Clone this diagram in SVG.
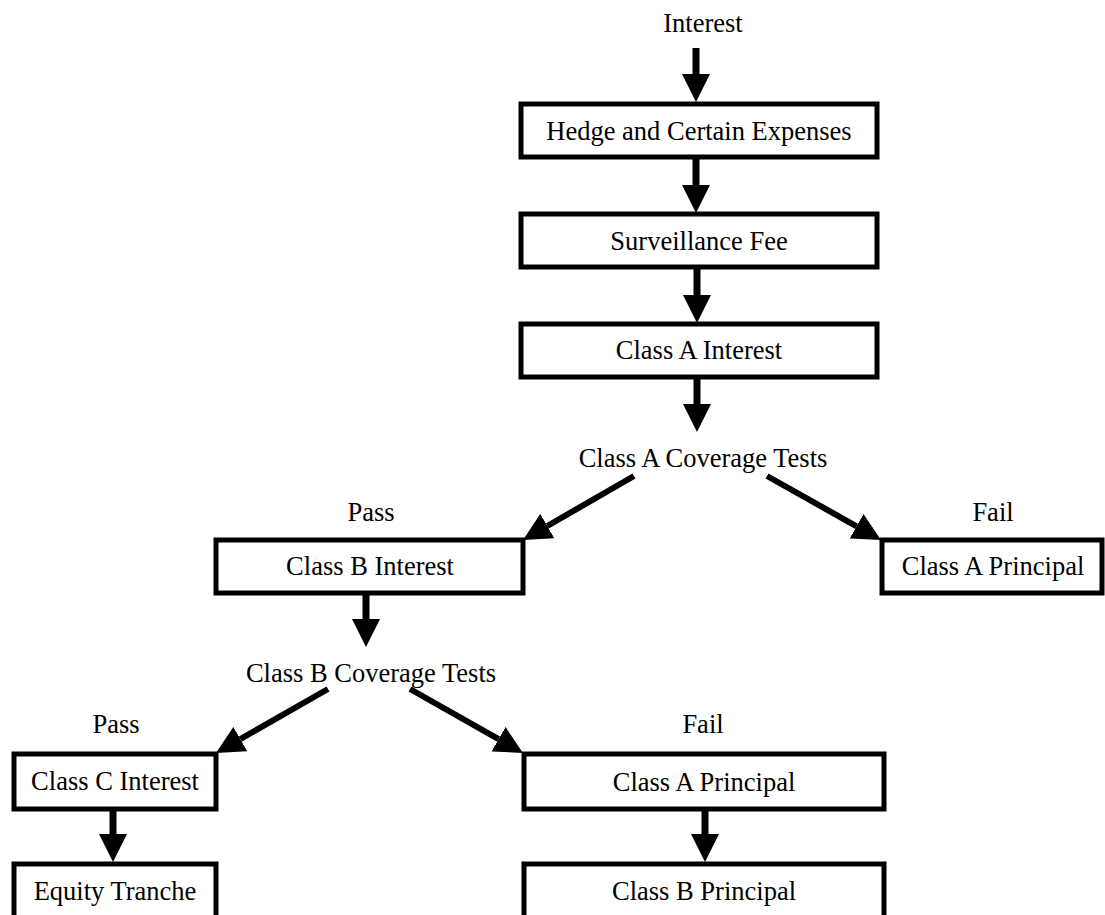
<svg xmlns="http://www.w3.org/2000/svg" width="1105" height="915" viewBox="0 0 1105 915">
<defs>
<marker id="ah" markerUnits="userSpaceOnUse" markerWidth="28" markerHeight="28" viewBox="0 0 28 28" refX="0" refY="14" orient="auto">
<path d="M0,0 L28,14 L0,28 Z" fill="#000"/>
</marker>
<style>
.box{fill:#fff;stroke:#000;stroke-width:5}
.t{font-family:"Liberation Serif","Times New Roman",serif;font-size:26.5px;fill:#000;text-anchor:middle}
.v{stroke:#000;stroke-width:7;fill:none;marker-end:url(#ah)}
.d{stroke:#000;stroke-width:6;fill:none;marker-end:url(#ah)}
</style>
</defs>
<rect width="1105" height="915" fill="#fff"/>
<g id="connectors">
<line class="v" x1="696" y1="48" x2="696" y2="74"/>
<line class="v" x1="696" y1="157" x2="696" y2="185"/>
<line class="v" x1="697" y1="267" x2="697" y2="295"/>
<line class="v" x1="697" y1="377" x2="697" y2="404"/>
<line class="d" x1="634" y1="476" x2="547.3" y2="526"/>
<line class="d" x1="767" y1="476" x2="856.6" y2="526.3"/>
<line class="v" x1="366" y1="593" x2="366" y2="619"/>
<line class="d" x1="328" y1="689" x2="240.3" y2="739.1"/>
<line class="d" x1="410" y1="689" x2="498.6" y2="739.2"/>
<line class="v" x1="113" y1="809" x2="113" y2="834"/>
<line class="v" x1="705" y1="809" x2="705" y2="834"/>
</g>
<g id="label-interest"><text class="t" x="703" y="32">Interest</text></g>
<g id="node-hedge"><rect class="box" x="521" y="104" width="356" height="53"/><text class="t" x="699" y="140">Hedge and Certain Expenses</text></g>
<g id="node-surveillance"><rect class="box" x="521" y="214" width="356" height="53"/><text class="t" x="699" y="250">Surveillance Fee</text></g>
<g id="node-classA-interest"><rect class="box" x="521" y="324" width="356" height="53"/><text class="t" x="699" y="359">Class A Interest</text></g>
<g id="label-classA-tests"><text class="t" x="703" y="467">Class A Coverage Tests</text></g>
<g id="label-pass1"><text class="t" x="371" y="521">Pass</text></g>
<g id="label-fail1"><text class="t" x="993" y="521">Fail</text></g>
<g id="node-classB-interest"><rect class="box" x="216" y="540" width="307" height="53"/><text class="t" x="370" y="575">Class B Interest</text></g>
<g id="node-classA-principal-1"><rect class="box" x="882" y="540" width="220" height="53"/><text class="t" x="993" y="575">Class A Principal</text></g>
<g id="label-classB-tests"><text class="t" x="371" y="682">Class B Coverage Tests</text></g>
<g id="label-pass2"><text class="t" x="116" y="733">Pass</text></g>
<g id="label-fail2"><text class="t" x="703" y="733">Fail</text></g>
<g id="node-classC-interest"><rect class="box" x="14" y="754" width="202" height="55"/><text class="t" x="115" y="790">Class C Interest</text></g>
<g id="node-classA-principal-2"><rect class="box" x="524" y="754" width="360" height="55"/><text class="t" x="704" y="791">Class A Principal</text></g>
<g id="node-equity"><rect class="box" x="14" y="864" width="202" height="80"/><text class="t" x="115" y="900">Equity Tranche</text></g>
<g id="node-classB-principal"><rect class="box" x="524" y="864" width="360" height="80"/><text class="t" x="704" y="900">Class B Principal</text></g>
</svg>
